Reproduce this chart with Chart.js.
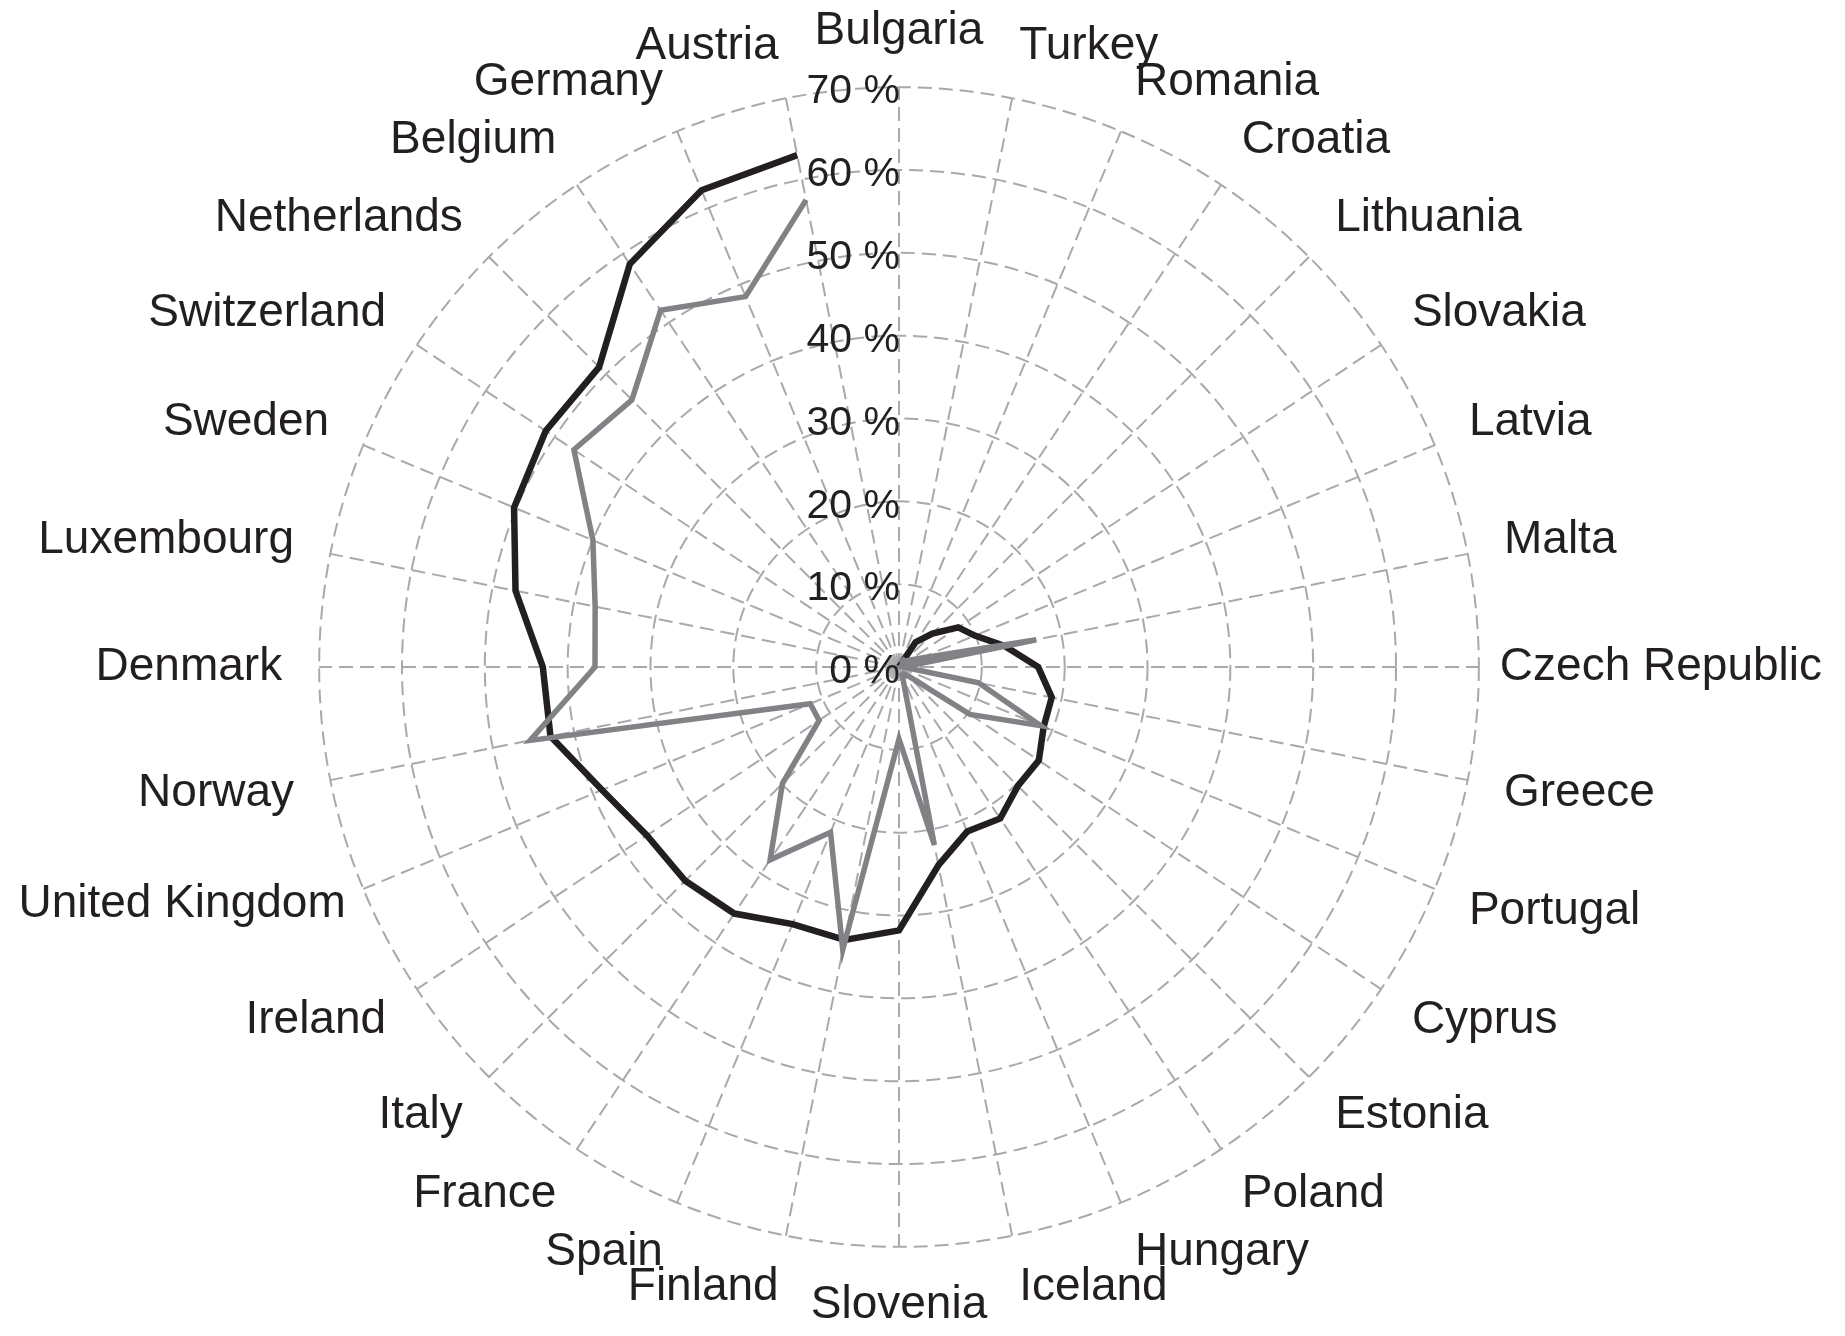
<!DOCTYPE html>
<html lang="en">
<head>
    <meta charset="UTF-8">
    <title>Radar chart - European countries</title>
    <script src="https://cdn.jsdelivr.net/npm/chart.js@4"></script>
    <style>
        html, body { margin: 0; padding: 0; background: #fff; }
        .chart-box { width: 1845px; height: 1336px; position: relative; }
    </style>
</head>
<body>
<div class="chart-box">
    <canvas id="radarChart"></canvas>
</div>
<script>
    const countries = ['Bulgaria', 'Turkey', 'Romania', 'Croatia', 'Lithuania', 'Slovakia', 'Latvia', 'Malta',
        'Czech Republic', 'Greece', 'Portugal', 'Cyprus', 'Estonia', 'Poland', 'Hungary', 'Iceland',
        'Slovenia', 'Finland', 'Spain', 'France', 'Italy', 'Ireland', 'United Kingdom', 'Norway',
        'Denmark', 'Luxembourg', 'Sweden', 'Switzerland', 'Netherlands', 'Belgium', 'Germany', 'Austria'];

    // dark series
    const seriesDark = [null, 0, 0, 3.6, 5.7, 8.6, 9.9, 13.0,
        16.8, 18.8, 18.9, 20.3, 20.3, 22.0, 21.5, 24.4,
        31.8, 33.6, 33.6, 35.8, 36.5, 36.6, 38.8, 42.9,
        43.0, 47.2, 50.3, 51.3, 51.2, 58.5, 62.3, 63.0];

    // grey series
    const seriesGrey = [null, 0.5, 0.5, 1, 1, 1.5, 2.8, 16.9,
        0.5, 9.8, 18.5, 10.3, 1.5, 1, 1, 21.9,
        8.7, 34.8, 21.6, 28.0, 19.9, 11.6, 11.6, 45.4,
        36.7, 37.4, 40.0, 47.2, 45.6, 51.8, 48.4, 57.5];

    const tickValues = [0, 10, 20, 30, 40, 50, 60, 70];
    const tickLabels = ['0 %', '10 %', '20 %', '30 %', '40 %', '50 %', '60 %', '70 %'];

    const textColor = '#231f20';
    const gridColor = '#a7a9ac';
    const labelFamily = '"Liberation Sans", Arial, sans-serif';

    // percent labels sit right-aligned on the vertical axis
    const tickLabelPlugin = {
        id: 'tickLabelPlugin',
        afterDatasetsDraw(chart) {
            const scale = chart.scales.r;
            const ctx = chart.ctx;
            ctx.save();
            ctx.font = '41px ' + labelFamily;
            ctx.fillStyle = textColor;
            ctx.textAlign = 'right';
            ctx.textBaseline = 'middle';
            tickValues.forEach((v, i) => {
                const d = scale.getDistanceFromCenterForValue(v);
                ctx.fillText(tickLabels[i], scale.xCenter + 1, scale.yCenter - d + 5);
            });
            ctx.restore();
        }
    };

    // the two widest side labels get less padding so the circle can stay large
    function labelPadding(c) {
        if (c.label === 'Czech Republic') return 21;
        if (c.label === 'United Kingdom') return 19;
        if (c.label === 'Bulgaria') return 40;
        if (c.label === 'Slovenia') return 42;
        return 37;
    }

    // labels near the top and bottom sit a bit further off their spoke end
    function labelFont(c) {
        const angle = c.index * 2 * Math.PI / countries.length;
        const shift = 4 + 12 * Math.abs(Math.cos(angle));
        return { family: labelFamily, size: 46, lineHeight: 2 * shift / 46 };
    }

    function buildChart() {
        const ctx = document.getElementById('radarChart').getContext('2d');
        new Chart(ctx, {
            type: 'radar',
            data: {
                labels: countries,
                datasets: [
                    {
                        label: 'Grey',
                        data: seriesGrey,
                        borderColor: '#808285',
                        borderWidth: 5.5,
                        fill: false,
                        order: 0
                    },
                    {
                        label: 'Dark',
                        data: seriesDark,
                        borderColor: textColor,
                        borderWidth: 6.5,
                        fill: false,
                        order: 1
                    }
                ]
            },
            options: {
                responsive: true,
                maintainAspectRatio: false,
                devicePixelRatio: 1,
                animation: false,
                spanGaps: false,
                layout: { padding: { top: 5, bottom: 5 } },
                elements: {
                    line: { tension: 0, borderJoinStyle: 'miter', borderCapStyle: 'butt' },
                    point: { radius: 0, hoverRadius: 0 }
                },
                plugins: {
                    legend: { display: false },
                    tooltip: { enabled: false }
                },
                scales: {
                    r: {
                        min: 0,
                        max: 70,
                        ticks: { stepSize: 10, display: false },
                        grid: { circular: true, color: gridColor, lineWidth: 2 },
                        border: { dash: [14, 7] },
                        angleLines: { color: gridColor, lineWidth: 2, borderDash: [14, 7] },
                        pointLabels: {
                            color: textColor,
                            padding: labelPadding,
                            font: labelFont
                        }
                    }
                }
            },
            plugins: [tickLabelPlugin]
        });
    }

    window.onload = buildChart;
</script>
</body>
</html>
